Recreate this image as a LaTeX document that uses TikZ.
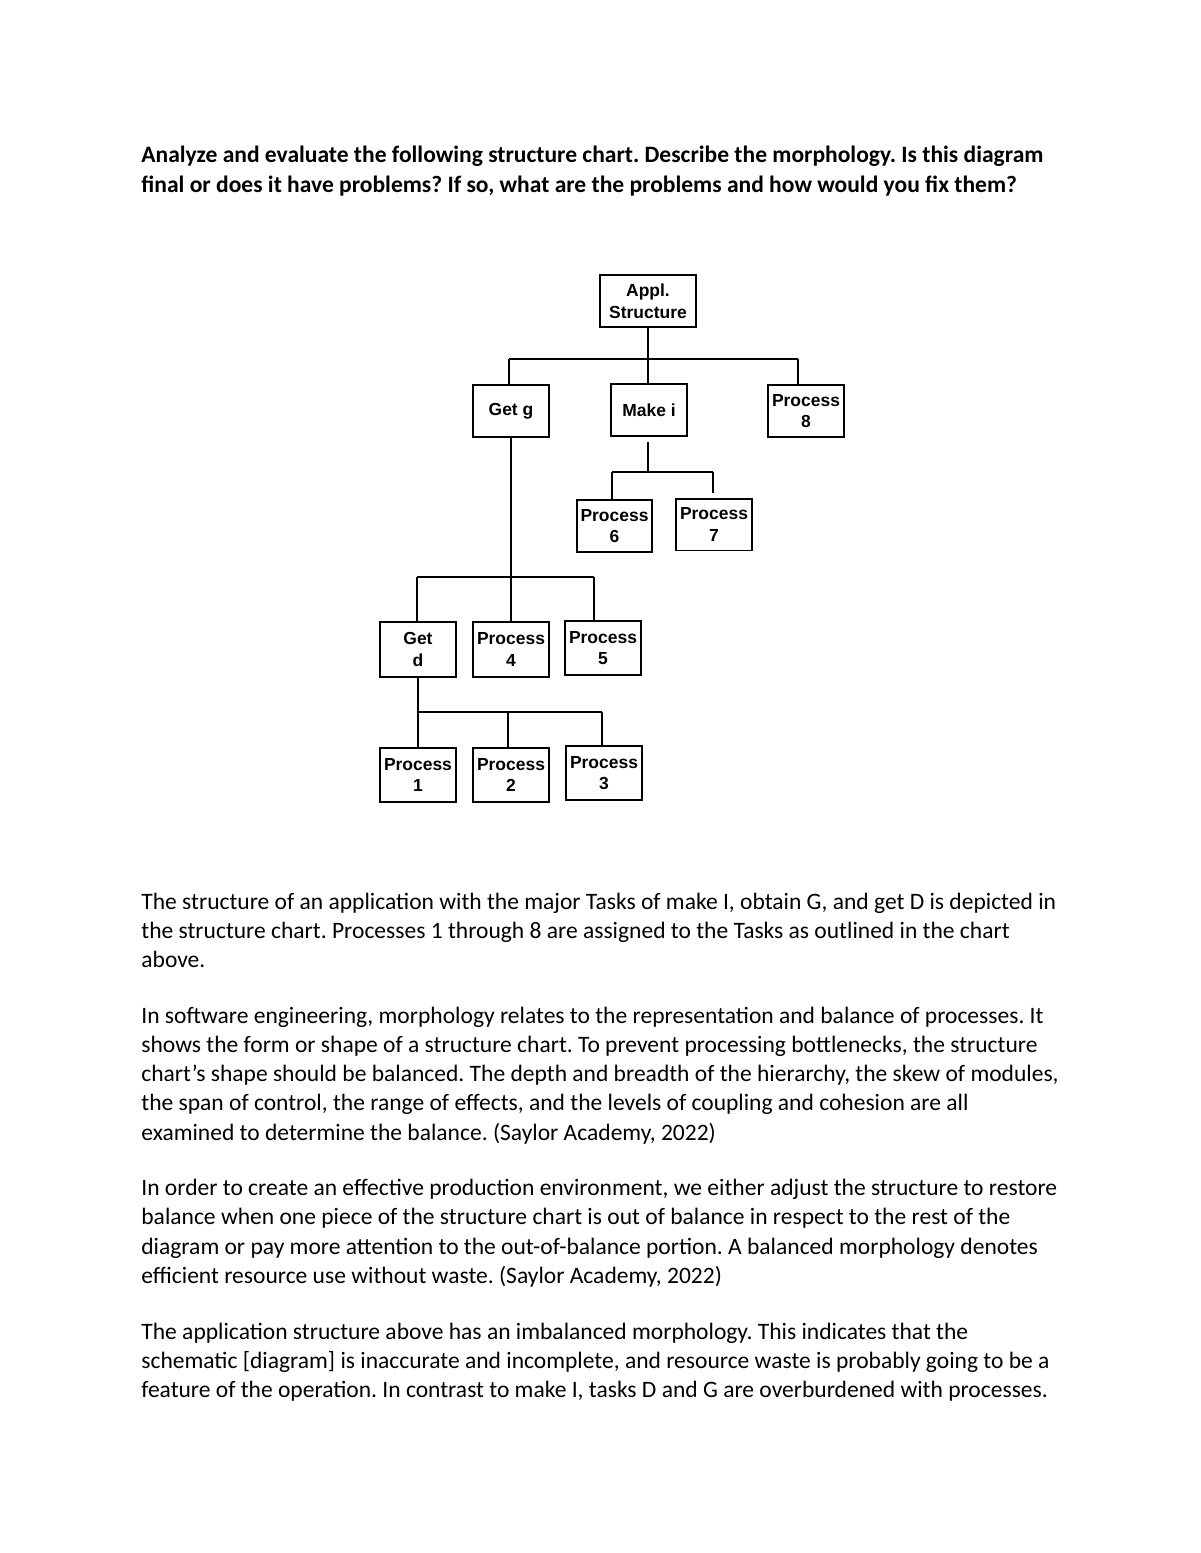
\documentclass[tikz,border=0pt]{standalone}
\usepackage{fontspec}
\setmainfont{Carlito}
\newfontfamily\diagfont{Liberation Sans}
\frenchspacing
\begin{document}
\begin{tikzpicture}[x=0.51pt,y=-0.51pt,
  box/.style={draw, line width=1pt, minimum width=38.3pt, minimum height=26.5pt, inner sep=0pt, align=center, font=\diagfont\bfseries\fontsize{8.9}{11}\selectfont},
  lowbox/.style={box, minimum width=38.8pt, minimum height=28pt},
  conn/.style={line width=1pt},
  txt/.style={anchor=base west, inner sep=0pt, font=\fontsize{12}{14}\selectfont},
  ttl/.style={anchor=base west, inner sep=0pt, font=\bfseries\fontsize{12}{14}\selectfont}]
\useasboundingbox (0,0) rectangle (1200,1553);

% title
\node[ttl] (t1) at (141,163) {Analyze and evaluate the following structure chart. Describe the morphology. Is this diagram};
\node[ttl] (t2) at (141,193) {final or does it have problems? If so, what are the problems and how would you fix them?};

% diagram nodes
\node[box, minimum width=48.5pt] (A) at (648,301) {Appl.\\Structure};
\node[box] (gg) at (511,411) {Get g};
\node[box] (mi) at (649,410) {Make i};
\node[box] (p8) at (806,411) {Process\\8};
\node[box] (p6) at (614.5,526) {Process\\6};
\node[box] (p7) at (714,524.5) {Process\\7};
\node[lowbox] (gd) at (418,649.5) {Get\\d};
\node[lowbox] (p4) at (511,649.5) {Process\\4};
\node[lowbox] (p5) at (603,648) {Process\\5};
\node[lowbox] (p1) at (418,775) {Process\\1};
\node[lowbox] (p2) at (511,775) {Process\\2};
\node[lowbox] (p3) at (604,773) {Process\\3};

% connectors
\coordinate (b1L) at (509,359);
\coordinate (b1R) at (798,359);
\draw[conn] (b1L) -- (b1R);
\draw[conn] (A.south) -- (A.south |- mi.north);
\draw[conn] (b1L) -- (b1L |- gg.north);
\draw[conn] (b1R) -- (b1R |- p8.north);

\coordinate (mi1) at (648,442);
\coordinate (b2L) at (612,472);
\coordinate (b2R) at (713,472);
\coordinate (p7e) at (713,493);
\draw[conn] (mi1) -- (mi1 |- b2L);
\draw[conn] (b2L) -- (b2R);
\draw[conn] (b2L) -- (b2L |- p6.north);
\draw[conn] (b2R) -- (p7e);

\coordinate (b3L) at (417,577);
\coordinate (b3R) at (594,577);
\draw[conn] (gg.south) -- (p4.north);
\draw[conn] (b3L) -- (b3R);
\draw[conn] (b3L) -- (b3L |- gd.north);
\draw[conn] (b3R) -- (b3R |- p5.north);

\coordinate (b4L) at (418,712);
\coordinate (b4M) at (508,712);
\coordinate (b4R) at (602,712);
\draw[conn] (gd.south) -- (p1.north);
\draw[conn] (b4L) -- (b4R);
\draw[conn] (b4M) -- (b4M |- p2.north);
\draw[conn] (b4R) -- (b4R |- p3.north);

% body text
\node[txt] (t3) at (141,909) {The structure of an application with the major Tasks of make I, obtain G, and get D is depicted in};
\node[txt] (t4) at (141,938.3) {the structure chart. Processes 1 through 8 are assigned to the Tasks as outlined in the chart};
\node[txt] (t5) at (141,967.6) {above.};

\node[txt] (t6) at (141,1023) {In software engineering, morphology relates to the representation and balance of processes. It};
\node[txt] (t7) at (141,1052.3) {shows the form or shape of a structure chart. To prevent processing bottlenecks, the structure};
\node[txt] (t8) at (141,1081.6) {chart’s shape should be balanced. The depth and breadth of the hierarchy, the skew of modules,};
\node[txt] (t9) at (141,1110.9) {the span of control, the range of effects, and the levels of coupling and cohesion are all};
\node[txt] (t10) at (141,1140.2) {examined to determine the balance. (Saylor Academy, 2022)};

\node[txt] (t11) at (141,1195.5) {In order to create an effective production environment, we either adjust the structure to restore};
\node[txt] (t12) at (141,1224.8) {balance when one piece of the structure chart is out of balance in respect to the rest of the};
\node[txt] (t13) at (141,1254.1) {diagram or pay more attention to the out-of-balance portion. A balanced morphology denotes};
\node[txt] (t14) at (141,1283.4) {efficient resource use without waste. (Saylor Academy, 2022)};

\node[txt] (t15) at (141,1339) {The application structure above has an imbalanced morphology. This indicates that the};
\node[txt] (t16) at (141,1368.3) {schematic [diagram] is inaccurate and incomplete, and resource waste is probably going to be a};
\node[txt] (t17) at (141,1397.6) {feature of the operation. In contrast to make I, tasks D and G are overburdened with processes.};
\end{tikzpicture}
\end{document}
